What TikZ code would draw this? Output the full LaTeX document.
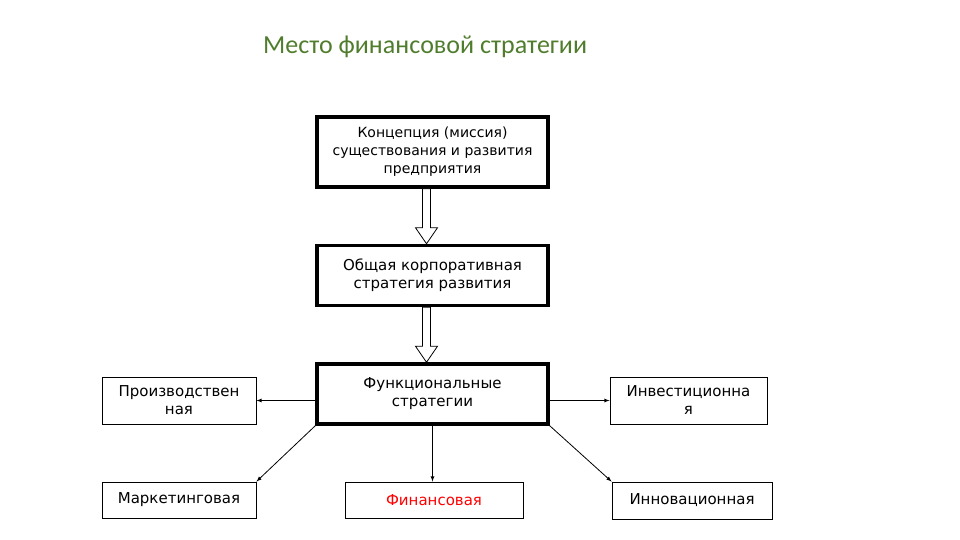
\documentclass[tikz,border=0pt]{standalone}
\usepackage{fontspec}
\setmainfont{DejaVu Sans}
\newfontfamily\titlefont{Carlito}
\definecolor{titlegreen}{RGB}{80,125,45}
\begin{document}
\begin{tikzpicture}[x=1pt,y=-1pt,
  box/.style={draw,line width=0.9pt,inner sep=0pt,align=center,font=\fontsize{15}{18}\selectfont},
  bigbox/.style={box,line width=3.5pt},
  conn/.style={-latex,line width=0.8pt},
  hollow/.style={draw,fill=white,line width=0.8pt}]
\useasboundingbox (0,0) rectangle (960,540);
\node[text=titlegreen,font=\titlefont\fontsize{26}{30}\selectfont,anchor=west,inner sep=0pt] (title) at (263,47) {Место финансовой стратегии};
\node[bigbox,minimum width=231,minimum height=70,font=\fontsize{14}{18}\selectfont] (c) at (432.5,152) {Концепция (миссия)\\существования и развития\\предприятия};
\node[bigbox,minimum width=231,minimum height=60] (g) at (432.5,275.5) {Общая корпоративная\\стратегия развития};
\node[bigbox,minimum width=231,minimum height=60] (f) at (432.5,394) {Функциональные\\стратегии};
\node[box,minimum width=154,minimum height=47] (p) at (179,400.5) {Производствен\\ная};
\node[box,minimum width=157,minimum height=47] (i) at (688.5,400.5) {Инвестиционна\\я};
\node[box,minimum width=154,minimum height=36] (m) at (179,500) {Маркетинговая};
\node[box,minimum width=178,minimum height=36,text=red] (fin) at (434,500) {Финансовая};
\node[box,minimum width=160,minimum height=37] (inn) at (692,500.5) {Инновационная};
% hollow arrows
\path[hollow] ([xshift=-10]c.south) -- ([xshift=-10,yshift=16]g.north) -- ([xshift=-17,yshift=16]g.north) -- ([xshift=-6]g.north) -- ([xshift=5,yshift=16]g.north) -- ([xshift=-2,yshift=16]g.north) -- ([xshift=-2]c.south) -- cycle;
\path[hollow] ([xshift=-10]g.south) -- ([xshift=-10,yshift=16]f.north) -- ([xshift=-17,yshift=16]f.north) -- ([xshift=-6]f.north) -- ([xshift=5,yshift=16]f.north) -- ([xshift=-2,yshift=16]f.north) -- ([xshift=-2]g.south) -- cycle;
\draw[conn] (f.west|-p.east) -- (p.east);
\draw[conn] (f.east|-i.west) -- (i.west);
\draw[conn] (f.south west) -- (m.north east);
\draw[conn] (f.south) -- (fin.north-|f.south);
\draw[conn] (f.south east) -- (inn.north west);
\end{tikzpicture}
\end{document}
